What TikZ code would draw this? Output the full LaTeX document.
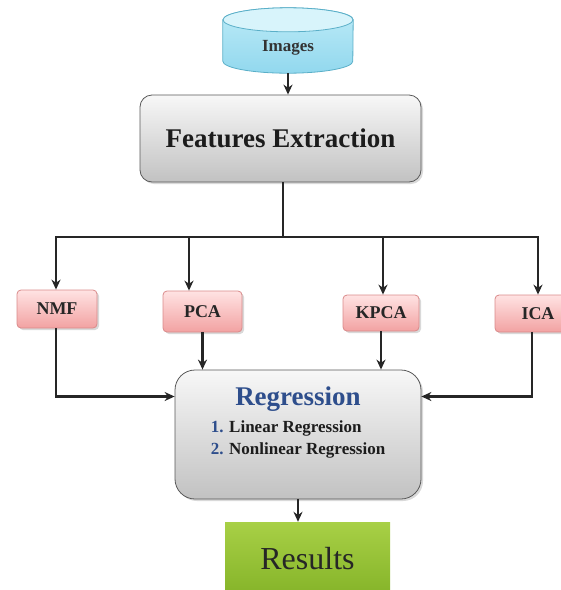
\documentclass[tikz,border=0pt]{standalone}
\usepackage{fontspec}
\setmainfont{Liberation Serif}
\usetikzlibrary{arrows.meta,shadows,backgrounds,calc}
\definecolor{pinktop}{HTML}{FFE3E3}
\definecolor{pinkbot}{HTML}{F2A2A2}
\definecolor{pinkline}{HTML}{D98A8A}
\definecolor{cyantop}{HTML}{D8F4FB}
\definecolor{cyanbodyA}{HTML}{BDEBF7}
\definecolor{cyanbodyB}{HTML}{92D8EE}
\definecolor{cyanline}{HTML}{5AAFC8}
\definecolor{regblue}{HTML}{2E4E8C}
\definecolor{greentop}{HTML}{A8D046}
\definecolor{greenbot}{HTML}{84B328}
\definecolor{darktext}{HTML}{1C1C1C}
\begin{document}
\begin{tikzpicture}[x=1pt,y=-1pt,
  conn/.style={line width=2.6pt, draw=black!85},
  arr/.style={conn, -{Stealth[length=10pt,width=9pt]}},
  shadowed/.style={drop shadow={opacity=0.3,shadow xshift=2pt,shadow yshift=-2pt}},
  graybox/.style={draw=black!65, line width=0.8pt, top color=gray!6, bottom color=gray!48, shadowed, text=darktext},
  pinkbox/.style={draw=pinkline, line width=0.8pt, rounded corners=4pt, top color=pinktop, bottom color=pinkbot, shadowed,
    font=\bfseries\fontsize{18}{20}\selectfont, text=black!85, inner sep=0pt},
  imgnode/.style={minimum width=130pt, minimum height=65pt, inner sep=0pt, font=\bfseries\fontsize{17}{18}\selectfont, text=black!80},
  imgbody/.style={draw=cyanline, line width=0.8pt, top color=cyanbodyA, bottom color=cyanbodyB},
  imgtop/.style={draw=cyanline, line width=0.8pt, fill=cyantop},
  resbox/.style={top color=greentop, bottom color=greenbot, text=black!85, inner sep=0pt}
]
\useasboundingbox (0,0) rectangle (561,590);
\clip (0,0) rectangle (561,590);

% Images cylinder
\node[imgnode] (img) at (288,40.5) {\smash{\raisebox{-11pt}{Images}}};
\begin{scope}[on background layer]
\path[imgbody] ([yshift=-12pt]img.north west) -- ([yshift=12pt]img.south west)
  arc[start angle=180,end angle=360,x radius=65pt,y radius=12pt]
  -- ([yshift=-12pt]img.north east)
  arc[start angle=0,end angle=180,x radius=65pt,y radius=12pt] -- cycle;
\path[imgtop] ([yshift=-12pt]img.north) ellipse[x radius=65pt,y radius=12pt];
\end{scope}

% Features Extraction
\node[graybox, rounded corners=12pt, minimum width=281pt, minimum height=87pt,
  font=\bfseries\fontsize{27}{30}\selectfont] (fe) at (280.5,138.5) {Features Extraction};

% Method boxes
\node[pinkbox, minimum width=80pt, minimum height=38pt] (nmf) at (57,309) {NMF};
\node[pinkbox, minimum width=79pt, minimum height=41pt] (pca) at (202.5,311.5) {PCA};
\node[pinkbox, minimum width=76pt, minimum height=36pt] (kpca) at (381,313) {KPCA};
\node[pinkbox, minimum width=86pt, minimum height=37pt] (ica) at (538,313.5) {ICA};

% Regression
\node[graybox, rounded corners=20pt, minimum width=246pt, minimum height=129pt, align=center, inner sep=0pt] (reg) at (298,434.5)
 {{\fontsize{27}{30}\selectfont\bfseries\color{regblue}Regression}\\[4pt]
  {\fontsize{17}{22}\selectfont\bfseries\begin{tabular}{@{}l@{}}\textcolor{regblue}{1.} Linear Regression\\ \textcolor{regblue}{2.} Nonlinear Regression\end{tabular}}\\[8pt]\strut};

% Results
\node[resbox, minimum width=165pt, minimum height=75pt, font=\fontsize{32}{34}\selectfont] (res) at (307.5,559.5) {\raisebox{2pt}{Results}};

% Connectors
\coordinate (hub) at (283,237);
\draw[arr] (img.south) -- (img.south |- fe.north);
\draw[conn] (hub |- fe.south) -- (hub);
\draw[arr] (hub) -| ([xshift=-1pt]nmf.north);
\draw[arr] (hub) -| ([xshift=-13.5pt]pca.north);
\draw[arr] (hub) -| ([xshift=2pt]kpca.north);
\draw[arr] (hub) -| (ica.north);
\draw[arr] ([xshift=-1pt]nmf.south) |- ([yshift=38pt]reg.west);
\draw[arr] (pca.south) -- (pca.south |- reg.north);
\draw[arr] (kpca.south) -- (kpca.south |- reg.north);
\draw[arr] ([xshift=-6pt]ica.south) |- ([yshift=38pt]reg.east);
\draw[arr] (reg.south) -- (reg.south |- res.north);
\end{tikzpicture}
\end{document}
